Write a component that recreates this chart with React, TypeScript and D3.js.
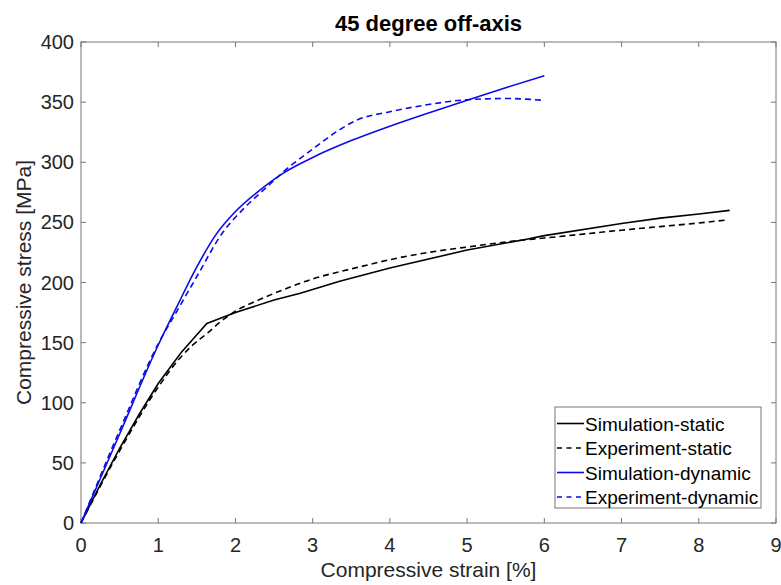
import * as d3 from 'd3';

// strain [%] / stress [MPa]
const simStatic: [number, number][] = [
  [0, 0], [0.25, 32], [0.5, 62], [0.75, 90], [1.0, 116], [1.3, 142], [1.63, 166],
  [2.0, 175], [2.5, 185.5], [2.84, 191], [3.35, 201], [4.0, 212], [5.0, 227],
  [5.77, 236], [6.0, 239], [7.0, 249], [7.5, 253.5], [8.0, 257], [8.4, 260],
];
const expStatic: [number, number][] = [
  [0, 0], [0.5, 60], [1.0, 113], [1.28, 137], [1.43, 147],
  [1.64, 158], [1.8, 167], [1.97, 175], [2.32, 186], [2.7, 196], [3.0, 203],
  [3.35, 209], [3.61, 213], [4.0, 219], [4.5, 225], [5.0, 229.5], [5.77, 235.6],
  [6.0, 237], [7.0, 243.5], [7.5, 246.5], [8.0, 249.5], [8.36, 252],
];
const simDynamic: [number, number][] = [
  [0, 0], [0.5, 74], [1.0, 148], [1.25, 181], [1.5, 213], [1.75, 240],
  [2.0, 259], [2.3, 276], [2.62, 291], [3.0, 304],
  [3.5, 318], [4.0, 330], [4.5, 341], [5.0, 351.5], [5.5, 362], [6.0, 372],
];
const expDynamic: [number, number][] = [
  [0, 0], [0.5, 77], [1.0, 149], [1.25, 177], [1.5, 205],
  [1.84, 242], [2.1, 261], [2.4, 279], [2.62, 292], [3.0, 311],
  [3.3, 325], [3.57, 335], [4.0, 342], [4.5, 348], [5.0, 352], [5.5, 353], [6.0, 351.5],
];

const xTicks = [0, 1, 2, 3, 4, 5, 6, 7, 8, 9];
const yTicks = [0, 50, 100, 150, 200, 250, 300, 350, 400];

const series = [
  { name: 'Simulation-static', data: simStatic, color: '#000000', dash: null as string | null, curve: d3.curveLinear },
  { name: 'Experiment-static', data: expStatic, color: '#000000', dash: '6,4', curve: d3.curveMonotoneX },
  { name: 'Simulation-dynamic', data: simDynamic, color: '#0a0aeb', dash: null as string | null, curve: d3.curveMonotoneX },
  { name: 'Experiment-dynamic', data: expDynamic, color: '#0a0aeb', dash: '6,4', curve: d3.curveMonotoneX },
];

const W = 781;
const H = 585;
const margin = { top: 42, right: 5, bottom: 62, left: 81 };
const font = '"Liberation Sans", Arial, Helvetica, sans-serif';
const axisColor = '#777777';
const textColor = '#262626';

export default function App() {
  const x = d3.scaleLinear().domain([0, 9]).range([margin.left, W - margin.right]);
  const y = d3.scaleLinear().domain([0, 400]).range([H - margin.bottom, margin.top]);
  const [x0, x1] = x.range();
  const [y0, y1] = y.range();
  const tick = 5;

  const legendX = 555;
  const legendY = 407;
  const rowH = 24.5;

  return (
    <svg width={W} height={H} style={{ position: 'absolute', left: 0, top: 0, background: '#fff' }}
      fontFamily={font}>
      <rect x={0} y={0} width={W} height={H} fill="#fff" />

      {/* axes box */}
      <rect x={x0} y={y1} width={x1 - x0} height={y0 - y1} fill="none" stroke={axisColor} strokeWidth={1} />

      {xTicks.map(t => (
        <g key={'x' + t}>
          <line x1={x(t)} x2={x(t)} y1={y0} y2={y0 - tick} stroke={axisColor} />
          <line x1={x(t)} x2={x(t)} y1={y1} y2={y1 + tick} stroke={axisColor} />
          <text x={x(t)} y={y0 + 29} textAnchor="middle" fontSize={20} fill={textColor}>{t}</text>
        </g>
      ))}
      {yTicks.map(t => (
        <g key={'y' + t}>
          <line x1={x0} x2={x0 + tick} y1={y(t)} y2={y(t)} stroke={axisColor} />
          <line x1={x1} x2={x1 - tick} y1={y(t)} y2={y(t)} stroke={axisColor} />
          <text x={x0 - 7} y={y(t) + 7} textAnchor="end" fontSize={20} fill={textColor}>{t}</text>
        </g>
      ))}

      {/* curves */}
      {series.map(s => {
        const line = d3.line<[number, number]>()
          .x(d => x(d[0]))
          .y(d => y(d[1]))
          .curve(s.curve);
        return (
          <path key={s.name} d={line(s.data) || ''} fill="none" stroke={s.color} strokeWidth={1.6}
            strokeDasharray={s.dash || undefined} />
        );
      })}

      {/* labels */}
      <text x={(x0 + x1) / 2} y={31} textAnchor="middle" fontSize={22} fontWeight="bold" fill="#000">
        45 degree off-axis
      </text>
      <text x={(x0 + x1) / 2} y={577} textAnchor="middle" fontSize={21} fill={textColor}>
        Compressive strain [%]
      </text>
      <text transform={`translate(31,${(y0 + y1) / 2}) rotate(-90)`} textAnchor="middle" fontSize={21} fill={textColor}>
        Compressive stress [MPa]
      </text>

      {/* legend */}
      <rect x={legendX} y={legendY} width={206} height={101} fill="#fff" stroke={axisColor} strokeWidth={1} />
      {series.map((s, i) => {
        const cy = legendY + 16.5 + i * rowH;
        return (
          <g key={'lg' + s.name}>
            <line x1={legendX + 2} x2={legendX + 29} y1={cy} y2={cy} stroke={s.color} strokeWidth={1.6}
              strokeDasharray={s.dash ? '5,4.5' : undefined} />
            <text x={legendX + 30} y={cy + 7} fontSize={19} fill="#000">{s.name}</text>
          </g>
        );
      })}
    </svg>
  );
}
